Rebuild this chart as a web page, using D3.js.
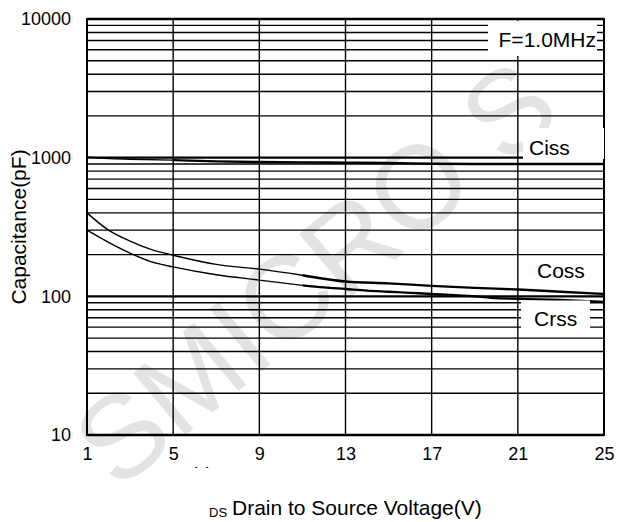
<!DOCTYPE html>
<html>
<head>
<meta charset="utf-8">
<script src="https://cdn.jsdelivr.net/npm/d3@7/dist/d3.min.js"></script>
<style>
  body { margin: 0; background: #fff; }
  text { font-family: "Liberation Sans", Arial, sans-serif; fill: #000; }
</style>
</head>
<body>
<svg id="chart" width="617" height="522"></svg>
<script>
// values (V_DS in volts, capacitance in pF)
var xTicks = [1, 5, 9, 13, 17, 21, 25];
var yTickLabels = [10, 100, 1000, 10000];

var cissV = [1, 2, 3, 5, 7, 9, 11, 13, 15, 17, 19, 21, 23, 25];
var cissC = [1010, 985, 975, 960, 940, 930, 925, 920, 915, 905, 900, 900, 900, 900];

var cossV = [1, 2, 3, 4, 5, 7, 9, 11, 13, 15, 17, 19, 21, 23, 25];
var cossC = [400, 300, 250, 217, 198, 170, 157, 142, 128, 124, 119, 115, 112, 108, 104];

var crssV = [1, 2, 3, 4, 5, 7, 9, 11, 12, 13, 14, 15, 16, 17, 19, 20, 21, 23, 25];
var crssC = [300, 245, 205, 177, 163, 143, 131, 120, 116, 113, 110, 108, 106, 104, 100, 97, 96, 94, 91];

var margin = { top: 19, right: 13, bottom: 87, left: 87 };
var width = 617 - margin.left - margin.right;
var height = 522 - margin.top - margin.bottom;

var svg = d3.select("#chart");

// watermark behind everything
svg.append("text")
  .attr("transform", "translate(118,492) rotate(-40)")
  .attr("font-size", 118)
  .style("fill", "#e3e3e3")
  .text("SMICRO S");

var g = svg.append("g")
  .attr("transform", "translate(" + margin.left + "," + margin.top + ")");

var x = d3.scaleLinear().domain([1, 25]).range([0, width]);
var y = d3.scaleLog().domain([10, 10000]).range([height, 0]);

// horizontal grid, decades a bit heavier
g.append("g")
  .selectAll("line")
  .data(y.ticks())
  .enter()
  .append("line")
  .attr("x1", 0)
  .attr("x2", width)
  .attr("y1", function (d) { return y(d); })
  .attr("y2", function (d) { return y(d); })
  .attr("stroke", "#000")
  .attr("stroke-width", function (d) {
    return yTickLabels.indexOf(d) >= 0 ? 2.4 : 1.4;
  });

// vertical grid
g.append("g")
  .selectAll("line")
  .data(xTicks)
  .enter()
  .append("line")
  .attr("x1", function (d) { return x(d); })
  .attr("x2", function (d) { return x(d); })
  .attr("y1", 0)
  .attr("y2", height)
  .attr("stroke", "#000")
  .attr("stroke-width", 1.4);

// frame
g.append("rect")
  .attr("width", width)
  .attr("height", height)
  .attr("fill", "none")
  .attr("stroke", "#000")
  .attr("stroke-width", 2);

// curves
var line = d3.line()
  .x(function (d) { return x(d[0]); })
  .y(function (d) { return y(d[1]); })
  .curve(d3.curveMonotoneX);

function drawSeries(vs, cs, split) {
  var pts = d3.zip(vs, cs);
  g.append("path")
    .datum(pts.filter(function (p) { return p[0] <= split; }))
    .attr("d", line)
    .attr("fill", "none")
    .attr("stroke", "#000")
    .attr("stroke-width", 1.4);
  g.append("path")
    .datum(pts.filter(function (p) { return p[0] >= split; }))
    .attr("d", line)
    .attr("fill", "none")
    .attr("stroke", "#000")
    .attr("stroke-width", 2.4);
}

drawSeries(cissV, cissC, 5);
drawSeries(cossV, cossC, 11);
drawSeries(crssV, crssC, 11);

// label boxes that blank the grid behind the text
function labelBox(x0, y0, w, h) {
  svg.append("rect")
    .attr("x", x0).attr("y", y0)
    .attr("width", w).attr("height", h)
    .attr("fill", "#fff");
}
labelBox(488, 21, 109, 35);
labelBox(523, 128, 81, 31);
labelBox(521, 300.5, 69, 32);

svg.append("text").attr("x", 596).attr("y", 47)
  .attr("text-anchor", "end").attr("font-size", 21).text("F=1.0MHz");
svg.append("text").attr("x", 529).attr("y", 155)
  .attr("font-size", 21).text("Ciss");
svg.append("text").attr("x", 537).attr("y", 278)
  .attr("font-size", 21).text("Coss");
svg.append("text").attr("x", 534).attr("y", 326)
  .attr("font-size", 21).text("Crss");

// axes (labels only)
var xAxis = g.append("g")
  .attr("transform", "translate(0," + height + ")")
  .call(d3.axisBottom(x).tickValues(xTicks).tickSize(0).tickPadding(12));
xAxis.attr("font-family", null).attr("font-size", 18);
xAxis.select(".domain").remove();

var yAxis = g.append("g")
  .call(d3.axisLeft(y).tickValues(yTickLabels).tickFormat(d3.format("d")).tickSize(0).tickPadding(16));
yAxis.attr("font-family", null).attr("font-size", 18);
yAxis.select(".domain").remove();

// axis titles
svg.append("text")
  .attr("transform", "translate(26," + (margin.top + 208) + ") rotate(-90)")
  .attr("text-anchor", "middle")
  .attr("font-size", 21)
  .text("Capacitance(pF)");

svg.append("text").attr("x", 209).attr("y", 517)
  .attr("font-size", 13).text("DS");
svg.append("text").attr("x", 232).attr("y", 515)
  .attr("font-size", 21).text("Drain to Source Voltage(V)");

// stray clipped "V" under the 5 tick, as in the source
svg.append("clipPath").attr("id", "vclip")
  .append("rect").attr("x", 185).attr("y", 455).attr("width", 40).attr("height", 13);
svg.append("text").attr("x", 195).attr("y", 481)
  .attr("font-size", 20)
  .attr("clip-path", "url(#vclip)")
  .text("V");
</script>
</body>
</html>
